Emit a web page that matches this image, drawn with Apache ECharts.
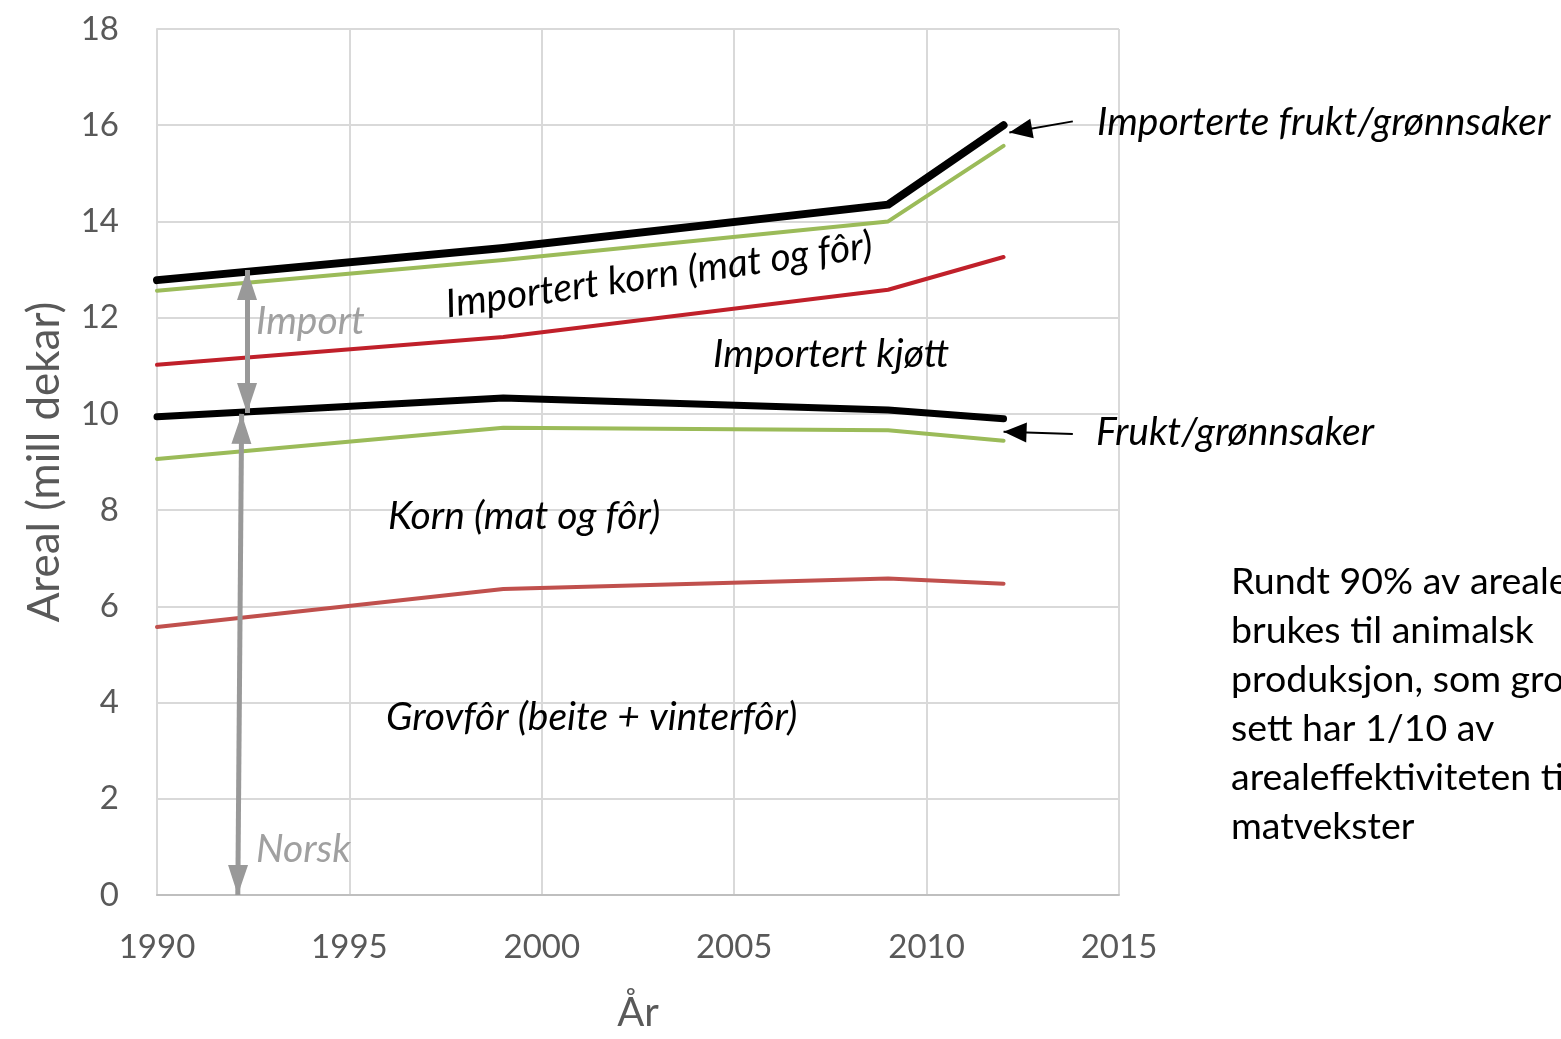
<!DOCTYPE html>
<html>
<head>
<meta charset="utf-8">
<script src="https://cdn.jsdelivr.net/npm/echarts@6/dist/echarts.min.js"></script>
<style>
  html, body { margin: 0; padding: 0; background: #fff; }
  #chart { width: 1561px; height: 1039px; }
</style>
</head>
<body>
<div id="chart"></div>
<script>
// years with data
const years = [1990, 1999, 2009, 2012];

// cumulative area (mill dekar), bottom to top
const grovfor = [5.57, 6.36, 6.58, 6.47];
const korn = [9.06, 9.71, 9.66, 9.44];
const frukt = [9.94, 10.33, 10.08, 9.9];
const impKjott = [11.02, 11.6, 12.58, 13.26];
const impKorn = [12.56, 13.2, 14.0, 15.57];
const impFrukt = [12.78, 13.45, 14.35, 16.0];

// grey double arrows: [from, to]
const norskArrow = [[1992.1, 0], [1992.2, 10.0]];
const importArrow = [[1992.34, 10.02], [1992.34, 12.99]];
// black pointer arrows (tail -> tip)
const pointerTop = [[2013.8, 16.08], [2012.15, 15.85]];
const pointerMid = [[2013.8, 9.58], [2012.0, 9.63]];

const yTicks = { min: 0, max: 18, step: 2 };
const xTicks = { min: 1990, max: 2015, step: 5 };

const grey = '#595959';
const gridColor = '#d9d9d9';

// triangle heads with tip at the centre of a square box (so the tip sits on the end point)
const greyHead = 'path://M30 30 L40 60 L20 60 Z M0 0 L0.01 0 M60 60 L60.01 60';
const blackHead = 'path://M23 23 L33 46 L13 46 Z M0 0 L0.01 0 M46 46 L46.01 46';

function pairs(vals) {
  return years.map((y, i) => [y, vals[i]]);
}

function lineSeries(name, vals, color, width) {
  return {
    name: name,
    type: 'line',
    data: pairs(vals),
    symbol: 'none',
    lineStyle: { color: color, width: width, cap: 'round', join: 'round' },
    z: 3
  };
}

function arrowSeries(coords, both, color, width, head, size) {
  return {
    type: 'lines',
    coordinateSystem: 'cartesian2d',
    data: [{ coords: coords }],
    symbol: [both ? head : 'none', head],
    symbolSize: size,
    lineStyle: { color: color, width: width, opacity: 1, curveness: 0 },
    silent: true,
    z: 5
  };
}

const chart = echarts.init(document.getElementById('chart'), null, { renderer: 'canvas' });

const labelFont = 'Lato, "Open Sans", sans-serif';

function label(text, x, y, opts) {
  opts = opts || {};
  return {
    type: 'text',
    x: x,
    y: y,
    rotation: opts.rotation || 0,
    z: 10,
    style: {
      text: text,
      fontFamily: labelFont,
      fontSize: opts.size || 39,
      fontStyle: opts.italic === false ? 'normal' : 'italic',
      fill: opts.color || '#000',
      align: opts.align || 'left',
      verticalAlign: opts.valign || 'middle',
      lineHeight: opts.lineHeight
    }
  };
}

chart.setOption({
  animation: false,
  backgroundColor: '#fff',
  grid: { left: 157, right: 442, top: 29, bottom: 144, containLabel: false },
  xAxis: {
    type: 'value',
    min: xTicks.min,
    max: xTicks.max,
    interval: xTicks.step,
    name: 'År',
    nameLocation: 'middle',
    nameGap: 98,
    nameTextStyle: { color: grey, fontSize: 40, fontFamily: labelFont },
    axisLine: { show: true, lineStyle: { color: '#bfbfbf', width: 2 } },
    axisTick: { show: false },
    axisLabel: {
      color: grey, fontSize: 33, fontFamily: labelFont, margin: 36,
      formatter: v => String(v)
    },
    splitLine: { show: true, lineStyle: { color: gridColor, width: 2 } }
  },
  yAxis: {
    type: 'value',
    min: yTicks.min,
    max: yTicks.max,
    interval: yTicks.step,
    name: 'Areal (mill dekar)',
    nameLocation: 'middle',
    nameGap: 90,
    nameRotate: 90,
    nameTextStyle: { color: grey, fontSize: 44, fontFamily: labelFont },
    axisLine: { show: true, lineStyle: { color: gridColor, width: 2 } },
    axisTick: { show: false },
    axisLabel: { color: grey, fontSize: 33, fontFamily: labelFont, margin: 38 },
    splitLine: { show: true, lineStyle: { color: gridColor, width: 2 } }
  },
  series: [
    lineSeries('Grovfôr', grovfor, '#c0504d', 4),
    lineSeries('Korn', korn, '#9bbb59', 4),
    lineSeries('Frukt/grønnsaker', frukt, '#000000', 7),
    lineSeries('Importert kjøtt', impKjott, '#c0202a', 4),
    lineSeries('Importert korn', impKorn, '#9bbb59', 4),
    lineSeries('Importerte frukt/grønnsaker', impFrukt, '#000000', 8),
    arrowSeries(norskArrow, true, '#999999', 5, greyHead, 60),
    arrowSeries(importArrow, true, '#999999', 5, greyHead, 60),
    arrowSeries(pointerTop, false, '#000000', 2, blackHead, 46),
    arrowSeries(pointerMid, false, '#000000', 2, blackHead, 46)
  ],
  graphic: [
    label('Importerte frukt/grønnsaker', 1097, 122),
    label('Frukt/grønnsaker', 1096, 432),
    label('Importert kjøtt', 713, 354),
    label('Korn (mat og fôr)', 388, 516),
    label('Grovfôr (beite + vinterfôr)', 386, 717),
    label('Importert korn (mat og fôr)', 659, 275, { align: 'center', rotation: 8 * Math.PI / 180 }),
    label('Import', 256, 321, { color: '#a0a0a0' }),
    label('Norsk', 256, 849, { color: '#a0a0a0' }),
    label('Rundt 90% av arealet\nbrukes til animalsk\nproduksjon, som grovt\nsett har 1/10 av\narealeffektiviteten til\nmatvekster',
      1231, 557, { italic: false, size: 37.5, valign: 'top', lineHeight: 49 })
  ]
});
</script>
</body>
</html>
